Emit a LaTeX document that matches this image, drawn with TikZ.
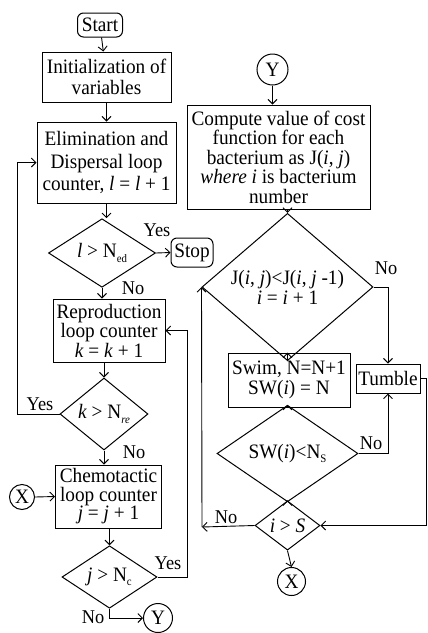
\documentclass[tikz,border=0pt]{standalone}
\usepackage{fontspec}
\setmainfont{Liberation Serif}[FakeStretch=0.94]
\usetikzlibrary{shapes.geometric,arrows.meta}
\newcommand{\lsub}[1]{\raisebox{-0.45ex}{\fontsize{11.5}{11.5}\selectfont #1}}
\begin{document}
\begin{tikzpicture}[x=1pt,y=-1pt,
  box/.style={draw, line width=1pt, align=center, inner sep=0pt, font=\fontsize{20.5}{20}\selectfont},
  dia/.style={draw, diamond, line width=1pt, align=center, inner sep=0pt, font=\fontsize{20.5}{20}\selectfont},
  term/.style={draw, line width=1pt, rounded corners=6pt, inner sep=0pt, font=\fontsize{20.5}{20}\selectfont},
  conn/.style={draw, circle, line width=1pt, inner sep=0pt, font=\fontsize{20.5}{20}\selectfont},
  lab/.style={inner sep=0pt, font=\fontsize{19.5}{19.5}\selectfont},
  arr/.style={line width=0.9pt, -{Straight Barb[length=4.5pt,width=9pt]}},
  ln/.style={line width=0.9pt}]
\useasboundingbox (0,0) rectangle (428,633);

% left column
\node[term, minimum width=45pt, minimum height=24pt] (start) at (100,25) {Start};
\node[box, minimum width=129pt, minimum height=50pt, font=\fontsize{20.5}{21}\selectfont] (init) at (106.5,77) {Initialization of\\variables};
\node[box, minimum width=139pt, minimum height=81pt, font=\fontsize{20.5}{22.5}\selectfont] (elim) at (106.5,162.5) {Elimination and\\Dispersal loop\\counter, \textit{l} = \textit{l} + 1};
\node[dia, minimum width=107pt, minimum height=58pt] (d1) at (102,253) {\textit{l} > N\lsub{ed}};
\node[term, minimum width=42pt, minimum height=29pt] (stop) at (192,252.5) {Stop};
\node[box, minimum width=112pt, minimum height=63pt, font=\fontsize{20.5}{18.5}\selectfont] (repro) at (109,330.5) {Reproduction\\loop counter\\\textit{k} = \textit{k} + 1};
\node[dia, minimum width=88pt, minimum height=72pt] (d2) at (104,414) {\textit{k} > N\lsub{\textit{re}}};
\node[box, minimum width=106pt, minimum height=63pt, font=\fontsize{20.5}{18.5}\selectfont] (chem) at (108.5,496.5) {Chemotactic\\loop counter\\\textit{j} = \textit{j} + 1};
\node[conn, minimum size=25pt] (xl) at (22,497) {X};
\node[dia, minimum width=95pt, minimum height=62pt] (d3) at (109.5,577) {\textit{j} > N\lsub{c}};
\node[conn, minimum size=29pt] (yb) at (158,618) {Y};

% right column
\node[conn, minimum size=31pt] (yt) at (272.5,69.5) {Y};
\node[box, minimum width=183pt, minimum height=104pt, font=\fontsize{20.5}{19.5}\selectfont] (comp) at (278.5,157) {Compute value of cost\\function for each\\bacterium as J(\textit{i}, \textit{j})\\\textit{where i} is bacterium\\number};
\node[dia, minimum width=171pt, minimum height=96pt] (dj) at (287.5,287) {J(\textit{i}, \textit{j})<J(\textit{i}, \textit{j} -1)\\\textit{i} = \textit{i} + 1};
\node[box, minimum width=122pt, minimum height=54pt] (swim) at (289,380) {Swim, N=N+1\\SW(\textit{i}) = N};
\node[box, minimum width=64pt, minimum height=29pt] (tumble) at (388,378.5) {Tumble};
\node[dia, minimum width=141pt, minimum height=67pt] (dsw) at (287.5,453.5) {SW(\textit{i})<N\lsub{S}};
\node[dia, minimum width=65pt, minimum height=47pt] (dis) at (287.5,525.5) {\textit{i} > \textit{S}};
\node[conn, minimum size=28pt] (xb) at (291.5,581.5) {X};

% helper coordinates
\coordinate (lx) at (17,0);
\coordinate (mx) at (187,0);
\coordinate (lp) at (202,527);
\coordinate (rx) at (426,0);

% labels
\node[lab] (yes1) at (157,230) {Yes};
\node[lab] (no1) at (133,288) {No};
\node[lab] (yes2) at (40,404) {Yes};
\node[lab] (no2) at (134,452) {No};
\node[lab] (yes3) at (168,563) {Yes};
\node[lab] (no3) at (93,617) {No};
\node[lab] (no4) at (386,268) {No};
\node[lab] (no5) at (371,443) {No};
\node[lab] (no6) at (226,517) {No};

% connectors left
\draw[arr] (start) -- (init);
\draw[arr] (init) -- (elim);
\draw[arr] (elim.south) -- (elim.south |- d1.north);
\draw[arr] (d1.east) -- (stop.west);
\draw[arr] (d1.south) -- (d1.south |- repro.north);
\draw[arr] (repro.south) -- (repro.south -| d2.north) -- (d2.north);
\draw[arr] (d2.west) -- (d2.west -| lx) -- (lx |- elim.west) -- (elim.west);
\draw[arr] (d2.south) -- (d2.south |- chem.north);
\draw[arr] (xl.east) -- (chem.west);
\draw[arr] (chem.south) -- (chem.south -| d3.north) -- (d3.north);
\draw[arr] (d3.east) -- (d3.east -| mx) -- (mx |- repro.east) -- (repro.east);
\draw[arr] (d3.south) -- (d3.south |- yb.west) -- (yb.west);

% connectors right
\draw[arr] (yt.south) -- (yt.south |- comp.north);
\draw[arr] (comp.south -| dj.north) -- (dj.north);
\draw[arr] (dj.east) -- (dj.east -| tumble.north) -- (tumble.north);
\draw[arr] (dj.south) -- (dj.south |- swim.north);
\draw[arr] (dj.south |- swim.south) -- (dsw.north);
\draw[arr] (dsw.east) -- (dsw.east -| tumble.south) -- (tumble.south);
\draw[arr] (dsw.south) -- (dis.north);
\draw[arr] (tumble.east) -- (tumble.east -| rx) -- (rx |- dis.east) -- (dis.east);
\draw[arr] (dis.west) -- (lp);
\draw[arr] (lp) -- (dj.west);
\draw[arr] (dis.south) -- (xb.north);
\end{tikzpicture}
\end{document}
